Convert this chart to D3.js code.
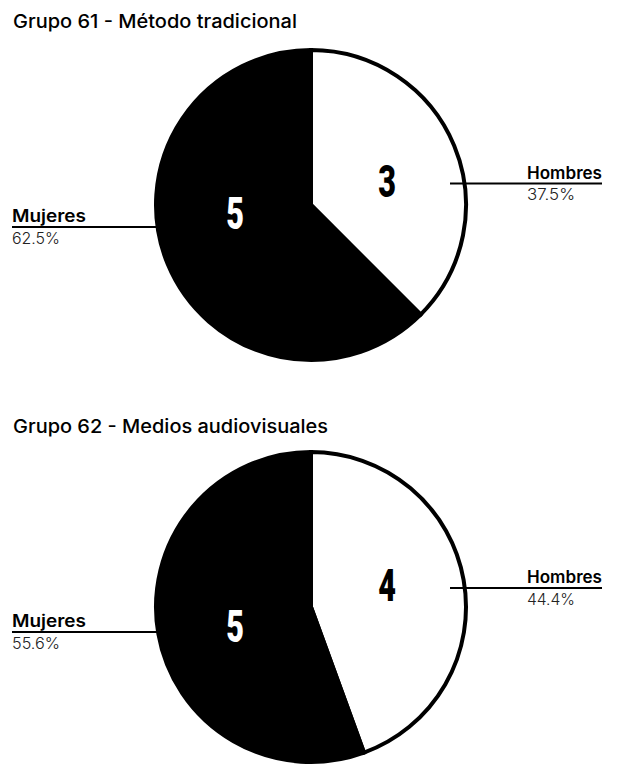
<!DOCTYPE html>
<html><head><meta charset="utf-8">
<script src="https://cdn.jsdelivr.net/npm/d3@7"></script>
<style>
html,body{margin:0;padding:0;background:#fff;}
svg{display:block;}
</style></head>
<body>
<svg id="chart" width="617" height="765"></svg>
<script>
// ---- data ----
const titles = ["Grupo 61 - Método tradicional", "Grupo 62 - Medios audiovisuales"];
const categories = ["Hombres", "Mujeres"];
const group61 = [3, 5];
const group62 = [4, 5];
const groups = [group61, group62];

// ---- layout ----
const svg = d3.select("#chart");
const layouts = [
  {cx: 311, cy: 205, titleY: 28, lineY: [-21.5, 22], numY: [-24, 8], titleW: 284},
  {cx: 311, cy: 607, titleY: 433, lineY: [-19, 25], numY: [-22, 19], titleW: 315}
];
const r = 155;
const fmt = d3.format(".1f");

const pie = d3.pie().sort(null).value(d => d);
const arc = d3.arc().innerRadius(0).outerRadius(r);

function fitText(sel, w) {
  sel.each(function() {
    const len = this.getComputedTextLength();
    if (len > 0) d3.select(this).attr("textLength", w).attr("lengthAdjust", "spacingAndGlyphs");
  });
}

groups.forEach((vals, gi) => {
  const L = layouts[gi];
  const total = d3.sum(vals);
  const g = svg.append("g");

  const t = g.append("text").attr("x", 13).attr("y", L.titleY)
    .attr("font-family", "Inter, 'Noto Sans', sans-serif")
    .attr("font-weight", 500).attr("font-size", 18.5).attr("fill", "#000")
    .text(titles[gi]);
  fitText(t, L.titleW);

  const pg = g.append("g").attr("transform", `translate(${L.cx},${L.cy})`);
  const arcs = pie(vals);
  pg.selectAll("path").data(arcs).join("path")
    .attr("d", arc)
    .attr("fill", (d, i) => i === 0 ? "#fff" : "#000")
    .attr("stroke", "#000").attr("stroke-width", 4)
    .attr("stroke-linejoin", "miter");

  // leader lines + labels
  arcs.forEach((d, i) => {
    const right = i === 0;
    const ly = L.cy + L.lineY[i];
    const x1 = right ? L.cx + r - 16 : 12;
    const x2 = right ? 602 : L.cx - r + 20;
    g.append("line").attr("x1", x1).attr("x2", x2).attr("y1", ly).attr("y2", ly)
      .attr("stroke", "#000").attr("stroke-width", 2);
    const tx = right ? 527 : 12;
    const name = g.append("text").attr("x", tx).attr("y", ly - 5)
      .attr("font-family", "Inter, 'Noto Sans', sans-serif")
      .attr("font-weight", 600).attr("font-size", 17).attr("fill", "#000")
      .text(categories[i]);
    fitText(name, right ? 75 : 74);
    const pct = g.append("text").attr("x", tx).attr("y", ly + 16.5)
      .attr("font-family", "Inter, 'Noto Sans', sans-serif")
      .attr("font-weight", 300).attr("font-size", 15.5).attr("fill", "#222")
      .text(fmt(d.data / total * 100) + "%");
    fitText(pct, 48);

    const nx = right ? 76 : -76;
    const ny = L.numY[i];
    pg.append("text")
      .attr("transform", `translate(${nx},${ny}) scale(0.68,1)`)
      .attr("text-anchor", "middle").attr("dy", "0.355em")
      .attr("font-family", "Roboto, 'DejaVu Sans', sans-serif")
      .attr("font-weight", 900).attr("font-size", 45)
      .attr("fill", right ? "#000" : "#fff")
      .text(d.data);
  });
});
</script>
</body></html>
